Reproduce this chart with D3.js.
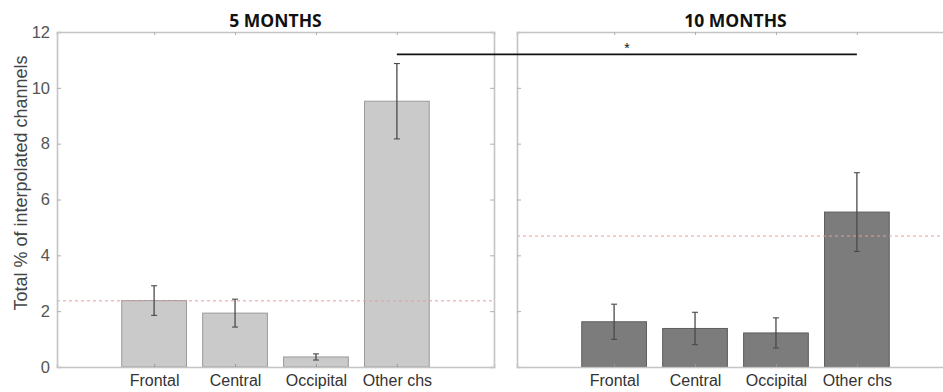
<!DOCTYPE html>
<html>
<head>
<meta charset="utf-8">
<script src="https://cdn.jsdelivr.net/npm/d3@7"></script>
<style>
  html, body { margin: 0; padding: 0; background: #fff; }
  svg { display: block; }
</style>
</head>
<body>
<svg id="chart" width="943" height="392"></svg>
<script>
// Channel groups on the x axis
const categories = ["Frontal", "Central", "Occipital", "Other chs"];

// Mean % of interpolated channels and error (half-length of the error bar)
const means5 = [2.38, 1.93, 0.36, 9.52];
const errs5  = [0.53, 0.50, 0.11, 1.35];
const means10 = [1.62, 1.38, 1.22, 5.55];
const errs10  = [0.63, 0.58, 0.54, 1.41];

// Overall average per age group (dashed reference line)
const overall5 = 2.37;
const overall10 = 4.69;

const yTicks = [0, 2, 4, 6, 8, 10, 12];
const panelTitles = ["5 MONTHS", "10 MONTHS"];
const sigBarLevel = 11.2;   // height of the significance bracket

const svg = d3.select("#chart");

const y = d3.scaleLinear().domain([0, 12]).range([367, 32]);

const panels = [
  { title: panelTitles[0], means: means5, errs: errs5, overall: overall5,
    x: d3.scaleLinear().domain([-0.2, 5.2]).range([57, 494]),
    fill: "#cacaca", stroke: "#9a9a9a", labels: true },
  { title: panelTitles[1], means: means10, errs: errs10, overall: overall10,
    x: d3.scaleLinear().domain([-0.2, 5.2]).range([517, 954]),
    fill: "#7c7c7c", stroke: "#5e5e5e", labels: false }
];

const axisColor = "#c4c4c4";
const labelFont = "'Liberation Sans', Arial, sans-serif";
const barW = 0.8;

panels.forEach(p => {
  const g = svg.append("g");
  const [x0, x1] = p.x.range();
  const idx = categories.map((c, i) => i + 1);

  // bars
  g.selectAll("rect.bar").data(p.means).join("rect")
    .attr("class", "bar")
    .attr("x", (d, i) => p.x(i + 1 - barW / 2))
    .attr("width", (d, i) => p.x(i + 1 + barW / 2) - p.x(i + 1 - barW / 2))
    .attr("y", d => y(d))
    .attr("height", d => y(0) - y(d))
    .attr("fill", p.fill)
    .attr("stroke", p.stroke)
    .attr("stroke-width", 1);

  // dashed overall mean
  g.append("line")
    .attr("x1", x0).attr("x2", x1)
    .attr("y1", y(p.overall)).attr("y2", y(p.overall))
    .attr("stroke", "#ee9a9a").attr("stroke-width", 1)
    .attr("stroke-dasharray", "3,3");

  // error bars
  const eb = g.selectAll("g.err").data(p.means).join("g").attr("class", "err");
  eb.append("line")
    .attr("x1", (d, i) => p.x(i + 1)).attr("x2", (d, i) => p.x(i + 1))
    .attr("y1", (d, i) => y(d + p.errs[i])).attr("y2", (d, i) => y(d - p.errs[i]))
    .attr("stroke", "#4a4a4a").attr("stroke-width", 1.3);
  [1, -1].forEach(s => {
    eb.append("line")
      .attr("x1", (d, i) => p.x(i + 1) - 3).attr("x2", (d, i) => p.x(i + 1) + 3)
      .attr("y1", (d, i) => y(d + s * p.errs[i])).attr("y2", (d, i) => y(d + s * p.errs[i]))
      .attr("stroke", "#4a4a4a").attr("stroke-width", 1.1);
  });

  // left axis
  const yAxis = d3.axisLeft(y).tickValues(yTicks).tickSize(-4).tickPadding(7)
    .tickFormat(p.labels ? d3.format("d") : () => "");
  const ga = g.append("g").attr("transform", `translate(${x0},0)`).call(yAxis);
  ga.select(".domain").attr("stroke", axisColor).attr("stroke-width", 1.6);
  ga.selectAll(".tick line").attr("stroke", "#b0b0b0");
  ga.selectAll(".tick text")
    .attr("fill", "#555").style("font-family", labelFont)
    .style("font-size", "16.5px");

  // right axis (box)
  if (x1 < 943) {
    const ra = g.append("g").attr("transform", `translate(${x1},0)`)
      .call(d3.axisRight(y).tickValues(yTicks).tickSize(-4).tickFormat(() => ""));
    ra.select(".domain").attr("stroke", axisColor).attr("stroke-width", 1.6);
    ra.selectAll(".tick line").attr("stroke", "#b0b0b0");
  }

  // bottom axis
  const xAxis = d3.axisBottom(p.x).tickValues(idx).tickSize(-3).tickPadding(8)
    .tickFormat(d => categories[d - 1]);
  const gx = g.append("g").attr("transform", `translate(0,${y(0)})`).call(xAxis);
  gx.select(".domain").attr("stroke", axisColor).attr("stroke-width", 1.6);
  gx.selectAll(".tick line").attr("stroke", "#999");
  gx.selectAll(".tick text")
    .attr("fill", "#333").style("font-family", labelFont)
    .style("font-size", "16px");

  // top axis (box)
  const gt = g.append("g").attr("transform", `translate(0,${y(12)})`)
    .call(d3.axisTop(p.x).tickValues(idx).tickSize(-3).tickFormat(() => ""));
  gt.select(".domain").attr("stroke", axisColor).attr("stroke-width", 1.6);
  gt.selectAll(".tick line").attr("stroke", "#b0b0b0");

  // title
  g.append("text")
    .attr("x", (x0 + x1) / 2).attr("y", 27)
    .attr("text-anchor", "middle")
    .style("font-family", "'Open Sans', sans-serif")
    .style("font-weight", 700).style("font-size", "17.5px")
    .attr("fill", "#111")
    .text(p.title);
});

// y-axis title
svg.append("text")
  .attr("transform", `translate(21,183) rotate(-90)`)
  .attr("text-anchor", "middle")
  .attr("dy", "0.35em")
  .style("font-family", labelFont)
  .style("font-size", "18px")
  .attr("fill", "#444")
  .text("Total % of interpolated channels");

// significance bracket between "Other chs" at 5 and 10 months
const sx1 = panels[0].x(4), sx2 = panels[1].x(4);
svg.append("line")
  .attr("x1", sx1).attr("x2", sx2)
  .attr("y1", y(sigBarLevel)).attr("y2", y(sigBarLevel))
  .attr("stroke", "#111").attr("stroke-width", 1.8);
svg.append("text")
  .attr("x", (sx1 + sx2) / 2).attr("y", y(sigBarLevel) - 1)
  .attr("text-anchor", "middle")
  .style("font-family", labelFont)
  .style("font-size", "14px")
  .attr("fill", "#111")
  .text("*");
</script>
</body>
</html>
